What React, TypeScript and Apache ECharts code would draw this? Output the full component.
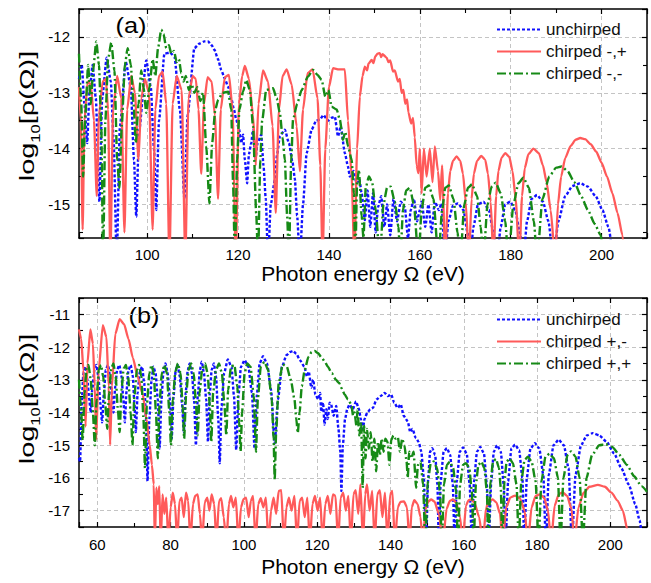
import React, { useEffect, useRef } from 'react';
import * as echarts from 'echarts';

type P = [number, number];

// ---------- axis ranges ----------
const xRangeA: [number, number] = [85, 210];
const yRangeA: [number, number] = [-15.6, -11.5];
const xRangeB: [number, number] = [55, 210];
const yRangeB: [number, number] = [-17.5, -10.5];

const xAxisTitle = 'Photon energy Ω (eV)';
const legendA = ['unchirped', 'chirped -,+', 'chirped -,-'];
const legendB = ['unchirped', 'chirped +,-', 'chirped +,+'];

// ---------- panel (a) ----------
const blueA: P[] = [
  [85, -12.75], [85.6, -12.5], [86.2, -13.2], [86.8, -13.9], [87.3, -13.0], [88, -12.5], [88.7, -13.1], [89.5, -14.95],
  [90.1, -13.1], [91.1, -12.37], [92, -12.8], [92.6, -13.8], [93.3, -16], [94, -13.6], [95.3, -12.45], [96.4, -12.9],
  [97.1, -14.2], [97.6, -15.22], [98.2, -13.7], [99.8, -12.42], [100.8, -12.9], [101.5, -14.0], [102, -15.1], [102.6, -13.5],
  [103.8, -12.3], [105, -12.28], [106, -12.35], [107.2, -13.3], [108.2, -14.9], [108.9, -13.4], [110.4, -12.2], [111.5, -12.12],
  [112.6, -12.08], [113.4, -12.08], [114.2, -12.15], [114.8, -12.23], [115.6, -12.4], [116.3, -12.59], [117.1, -12.75],
  [117.8, -12.89], [118.5, -13.1], [119.1, -13.3], [119.6, -13.48], [120.2, -13.65], [120.7, -13.9], [121.1, -13.75],
  [121.5, -14.2], [122, -14.62], [122.4, -14.1], [122.9, -13.9], [123.3, -13.66], [123.8, -14.2], [124.3, -13.9],
  [125.1, -13.75], [125.6, -14.3], [126.1, -14.9], [126.6, -16], [127.2, -15.0], [128.1, -14.56], [128.6, -14.1],
  [129.2, -13.78], [130.3, -13.66], [131.2, -13.9], [132, -14.25], [132.5, -14.54], [133, -15.2], [133.6, -16], [134.3, -15.0],
  [135.1, -14.08], [136.2, -13.66], [137.2, -13.5], [138, -13.48], [138.8, -13.4], [139.8, -13.5], [140.5, -13.45],
  [141.3, -13.43], [142, -13.78], [142.6, -13.6], [143.5, -14.08], [144.2, -14.32], [144.6, -14.5], [145.4, -14.4],
  [146.1, -14.62], [146.7, -14.55], [147.2, -14.8], [147.9, -15.28], [148.5, -14.75], [149.1, -15.4], [149.7, -14.8],
  [150.3, -15.5], [150.8, -15.05], [151.5, -14.85], [152.2, -15.4], [152.8, -15.0], [153.5, -15.55], [154.2, -14.9],
  [155, -15.3], [155.8, -14.95], [156.7, -15.05], [157.4, -15.6], [158, -15.1], [158.7, -14.9], [159.4, -15.3],
  [160, -15.1], [160.4, -14.95], [161.2, -15.4], [161.9, -15.0], [162.6, -15.5], [163.3, -14.95], [164.2, -15.1],
  [164.8, -14.98], [165.5, -16], [166.3, -15.3], [167.3, -15.02], [168.4, -14.98], [169.6, -15.1], [170.5, -15.5],
  [171.1, -16], [171.8, -15.4], [172.8, -15.0], [174, -14.95], [175.2, -15.1], [176.2, -15.5], [177, -16], [177.8, -15.4],
  [178.8, -15.0], [179.9, -14.95], [181, -15.1], [182, -15.5], [182.8, -16], [183.6, -15.3], [184.6, -14.9], [185.8, -14.83],
  [187.1, -14.95], [188.3, -15.3], [189.4, -16], [190.5, -15.3], [192, -14.85], [193.6, -14.67], [195.3, -14.62],
  [197, -14.68], [198.7, -14.85], [200.2, -15.1], [201.5, -15.4], [202.6, -16],
];

const redA: P[] = [
  [85, -12.9], [85.4, -13.5], [85.8, -15.45], [86.2, -13.5], [86.9, -12.8], [87.6, -12.85], [88.3, -13.5], [88.9, -14.85],
  [89.4, -13.4], [90.2, -12.8], [90.9, -12.75], [91.4, -13.3], [91.9, -16], [92.5, -13.3], [93.4, -12.7], [94.3, -13.1],
  [95, -15.5], [95.6, -13.3], [96.5, -12.7], [97.3, -13.0], [98.1, -14.2], [98.7, -13.1], [99.5, -12.75], [100.4, -13.0],
  [101.2, -15.45], [101.8, -13.3], [102.6, -12.7], [103.4, -12.62], [104.2, -13.2], [104.9, -16], [105.6, -13.2],
  [106.5, -12.7], [107.6, -12.95], [108.4, -16], [109.1, -13.1], [110, -12.7], [110.7, -12.75], [111.3, -13.3],
  [111.9, -14.45], [112.5, -13.2], [113.3, -12.72], [114.2, -12.8], [114.9, -13.4], [115.6, -14.9], [116.2, -13.3],
  [117.1, -12.72], [118, -12.68], [118.8, -13.3], [119.5, -16], [120.2, -13.2], [120.9, -12.7], [121.5, -12.52],
  [122.4, -12.75], [123.3, -13.4], [123.9, -14.3], [124.5, -13.2], [125.5, -12.6], [126.6, -12.8], [127.6, -13.6],
  [128.3, -15.15], [129, -13.3], [129.8, -12.7], [130.7, -12.58], [131.8, -12.85], [132.9, -13.6], [133.6, -14.4],
  [134.3, -13.3], [135.3, -12.65], [136.4, -12.58], [137.5, -13.1], [138.1, -14.3], [138.6, -16], [139.2, -14.0],
  [140, -12.9], [140.9, -12.56], [142.2, -12.58], [143.5, -12.58], [144.2, -13.5], [145, -14.5], [145.6, -16],
  [146.2, -14.0], [146.8, -13.07], [147.4, -12.7], [147.9, -12.53], [148.4, -12.6], [148.7, -12.48], [149.4, -12.41],
  [149.8, -12.47], [150.2, -12.35], [150.7, -12.3], [151.2, -12.29], [151.5, -12.36], [151.8, -12.31], [152.7, -12.37],
  [153.1, -12.45], [153.5, -12.42], [154.1, -12.62], [154.5, -12.6], [155.2, -12.8], [155.6, -12.75], [156, -13.0],
  [156.4, -12.95], [156.8, -13.2], [157.2, -13.12], [157.5, -13.35], [158.1, -13.55], [158.5, -13.45], [158.9, -13.8],
  [159.3, -14.3], [159.7, -14.44], [160, -14.0], [160.4, -14.8], [160.9, -14.0], [161.5, -14.5], [162.2, -14.0],
  [162.8, -14.6], [163.3, -13.96], [164, -14.4], [164.5, -14.92], [164.9, -14.3], [165.6, -16], [166.2, -14.8],
  [166.7, -14.4], [167.3, -14.22], [168.1, -14.14], [168.9, -14.22], [169.5, -14.45], [170.1, -14.95], [170.8, -16],
  [171.4, -14.9], [171.9, -14.45], [172.6, -14.22], [173.5, -14.13], [174.4, -14.2], [175, -14.45], [175.6, -14.95],
  [176.2, -16], [176.8, -14.85], [177.3, -14.4], [178, -14.16], [178.8, -14.08], [179.7, -14.15], [180.4, -14.4],
  [181.1, -14.9], [181.9, -16], [182.5, -14.85], [183.1, -14.35], [183.9, -14.1], [185, -14.0], [186.2, -14.08],
  [187.1, -14.3], [187.9, -14.6], [188.8, -15.1], [189.8, -16], [190.4, -15.0], [191.1, -14.5], [192, -14.17],
  [193.2, -13.95], [194.3, -13.84], [195.3, -13.81], [196.4, -13.83], [197.6, -13.92], [198.8, -14.05],
  [200, -14.25], [201.2, -14.5], [202.4, -14.8], [203.5, -15.15], [204.6, -15.55], [205.6, -16.5],
];

const greenA: P[] = [
  [85, -12.3], [85.5, -13.2], [85.9, -14.5], [86.4, -13.4], [87, -12.5], [87.6, -13.2], [88.1, -12.6], [88.8, -12.08],
  [89.4, -12.5], [89.9, -13.6], [90.3, -16], [90.8, -13.5], [91.4, -12.4], [92.1, -12.1], [92.8, -12.6], [93.4, -14.2],
  [93.9, -14.7], [94.4, -13.6], [95.1, -12.5], [95.7, -12.2], [96.4, -12.5], [97, -13.2], [97.5, -13.9], [98.1, -13.2],
  [98.7, -12.6], [99.2, -12.9], [99.8, -13.36], [100.5, -12.9], [101.2, -12.4], [101.8, -12.7], [102.4, -12.2],
  [103.1, -11.87], [103.6, -11.95], [104.2, -12.2], [104.8, -12.15], [105.3, -12.3], [105.9, -12.25], [106.5, -12.45],
  [107, -12.4], [107.5, -12.65], [108, -12.8], [108.5, -12.7], [109.2, -12.95], [109.8, -12.85], [110.4, -13.0],
  [111, -12.9], [111.7, -13.15], [112.3, -13.0], [113, -13.96], [113.7, -14.98], [114.3, -13.9], [115, -13.3],
  [115.6, -13.13], [116.6, -13.0], [117.8, -12.98], [118.5, -13.3], [118.9, -14.6], [119.3, -16], [119.8, -14.2],
  [120.3, -13.3], [121.1, -12.98], [121.8, -12.77], [122.6, -12.95], [123.3, -13.6], [124, -15.16], [124.4, -16],
  [124.9, -14.2], [125.3, -13.5], [126.2, -12.95], [127.7, -12.92], [128.5, -13.1], [129.2, -13.36], [129.8, -13.8],
  [130.3, -14.2], [130.8, -15.2], [131.2, -16], [131.7, -14.2], [132.1, -13.48], [133, -13.2], [134, -12.95],
  [135.4, -12.71], [136.5, -12.59], [137.5, -12.68], [138.4, -12.77], [139.2, -13.07], [139.9, -12.95], [140.6, -13.25],
  [141.7, -13.3], [142.4, -13.48], [143.1, -13.84], [143.6, -13.7], [144.2, -13.96], [145, -14.2], [145.5, -14.8],
  [145.8, -16], [146.2, -14.6], [146.6, -14.38], [147.2, -15.2], [147.6, -15.6], [148.1, -14.7], [148.8, -14.5],
  [149.5, -14.6], [150.3, -15.1], [151.2, -16], [152, -15.0], [152.8, -14.7], [153.6, -14.68], [154.5, -14.95],
  [155.3, -15.4], [155.7, -16], [156.3, -15.1], [157, -14.75], [157.8, -14.7], [158.7, -15.0], [159.7, -16],
  [160.4, -15.1], [161.2, -14.7], [162, -14.66], [163, -14.9], [164.1, -16], [164.9, -15.1], [165.6, -14.7],
  [166.4, -14.66], [167.4, -14.9], [168.3, -15.5], [168.9, -16], [169.8, -15.0], [170.6, -14.7], [171.5, -14.64],
  [172.6, -14.85], [173.4, -15.4], [174, -16], [174.9, -15.0], [175.8, -14.68], [176.7, -14.61], [177.8, -14.8],
  [178.8, -15.3], [179.5, -16], [180.6, -15.0], [181.7, -14.62], [182.8, -14.52], [184, -14.7], [185.1, -15.3],
  [185.8, -16], [187, -14.9], [188.5, -14.5], [190, -14.34], [191.2, -14.32], [192.5, -14.4], [194, -14.6],
  [195.5, -14.85], [197, -15.1], [198.5, -15.35], [199.8, -15.55], [200.5, -16],
];

// ---------- panel (b) ----------
const blueB: P[] = [
  [55, -15.4], [55.3, -15.5], [55.7, -13.8], [56.2, -12.8], [56.7, -12.6], [57.3, -13.0], [57.8, -13.6], [58.2, -14.0],
  [58.6, -13.3], [59.2, -12.7], [59.7, -12.55], [60.3, -12.9], [60.8, -13.7], [61.3, -14.3], [61.8, -13.4], [62.3, -12.7],
  [62.9, -12.55], [63.5, -12.9], [64, -13.5], [64.4, -14.0], [64.9, -13.2], [65.4, -12.7], [66, -12.55], [66.6, -12.9],
  [67.1, -13.6], [67.5, -14.3], [68, -13.3], [68.5, -12.7], [69.1, -12.55], [69.7, -12.9], [70.1, -13.7], [70.5, -14.6],
  [71, -13.4], [71.6, -12.75], [72.2, -12.6], [72.8, -13.1], [73.3, -14.2], [73.7, -16.1], [74.2, -14.2], [74.8, -13.0],
  [75.3, -12.6], [75.9, -12.8], [76.5, -13.6], [77, -15.1], [77.5, -13.6], [78, -12.8], [78.6, -12.5], [79.2, -12.8],
  [79.8, -13.6], [80.3, -14.8], [80.8, -13.5], [81.4, -12.7], [81.9, -12.55], [82.5, -12.9], [83.1, -13.7], [83.6, -14.6],
  [84.1, -13.4], [84.7, -12.7], [85.2, -12.5], [85.8, -12.8], [86.4, -13.6], [86.9, -15.0], [87.4, -13.5], [88, -12.7],
  [88.5, -12.45], [89.1, -12.8], [89.7, -13.6], [90.2, -14.9], [90.7, -13.4], [91.2, -12.7], [91.8, -12.5], [92.4, -12.9],
  [93, -14.2], [93.4, -15.55], [93.9, -13.8], [94.6, -12.8], [95.6, -12.38], [96.6, -12.6], [97.3, -13.5], [97.9, -15.14],
  [98.5, -13.5], [99.2, -12.6], [100.2, -12.4], [101.2, -12.6], [102.2, -13.4], [102.9, -15.1], [103.5, -13.5],
  [104.3, -12.5], [105.2, -12.28], [106.3, -12.5], [107.4, -13.3], [108.4, -14.95], [109.3, -13.6], [110.4, -12.6],
  [111.6, -12.25], [112.6, -12.15], [113.4, -12.12], [114.3, -12.2], [115.3, -12.4], [116.5, -12.6], [117.2, -12.9],
  [117.7, -12.75], [118.4, -13.24], [118.9, -13.0], [119.5, -13.45], [120.3, -13.6], [120.8, -13.4], [121.1, -13.97],
  [121.6, -13.7], [122, -14.37], [122.5, -13.9], [122.9, -14.2], [123.4, -13.7], [123.8, -13.76], [124.5, -14.1],
  [125.2, -13.8], [125.8, -14.5], [126.3, -15.2], [126.6, -16.4], [127, -15.0], [127.6, -14.2], [128.2, -13.9],
  [128.8, -13.76], [129.7, -13.9], [130.6, -13.66], [131.4, -13.9], [131.9, -14.2], [132.4, -14.58], [132.9, -14.2],
  [133.7, -14.0], [134.5, -13.9], [135.2, -13.86], [136.2, -13.6], [137.3, -13.5], [138.4, -13.4], [139.3, -13.5],
  [140.2, -13.45], [141, -13.7], [142, -13.86], [142.8, -13.75], [143.6, -14.1], [144.7, -14.27], [145.4, -14.6],
  [146, -14.5], [146.9, -14.78], [147.7, -14.9], [148.4, -15.19], [149.1, -16], [149.7, -18], [150.3, -16], [150.8, -15.2],
  [151.4, -15.09], [152.2, -15.3], [152.8, -16.2], [153.2, -18], [153.7, -16.1], [154.5, -15.2], [155.4, -15.09],
  [156.3, -15.3], [157, -16.2], [157.5, -18], [158.1, -16.1], [158.9, -15.2], [159.8, -15.07], [160.8, -15.25],
  [161.6, -16.2], [162.2, -18], [162.8, -16.1], [163.6, -15.2], [164.5, -15.05], [165.5, -15.25], [166.3, -16.2],
  [166.8, -18], [167.5, -16.1], [168.2, -15.2], [169.1, -15.0], [170.1, -15.2], [170.9, -16.2], [171.4, -18],
  [172.1, -16.1], [173, -15.1], [174, -14.98], [175.1, -15.15], [176, -16.0], [176.5, -18], [177.2, -16.0],
  [178.2, -15.1], [179.4, -14.94], [180.6, -15.1], [181.7, -15.9], [182.4, -18], [183.2, -15.9], [184.5, -15.0],
  [185.9, -14.83], [187.3, -15.0], [188.6, -15.7], [189.5, -18], [190.5, -15.9], [192, -15.0], [193.6, -14.7],
  [195.2, -14.63], [197, -14.7], [199, -14.9], [201, -15.25], [203, -15.7], [205, -16.2], [206.8, -16.8], [208, -17.3],
  [208.8, -18],
];

const redB: P[] = [
  [55, -11.46], [55.6, -11.75], [56.2, -12.7], [56.8, -14.43], [57.3, -12.5], [58.1, -11.46], [58.8, -11.9],
  [59.3, -13.2], [59.7, -14.83], [60.3, -12.8], [61.5, -11.33], [62.5, -11.7], [63.1, -13.2], [63.5, -14.99],
  [64, -13.2], [64.9, -11.6], [66.1, -11.15], [67.3, -11.3], [68.5, -11.75], [69.7, -12.33], [71, -12.9], [72.4, -13.45],
  [73.4, -14.2], [74.3, -15.0], [74.9, -15.6], [75.4, -16.2], [75.7, -18], [76.1, -16.3], [76.5, -16.8], [76.9, -16.25],
  [77.3, -18], [77.8, -16.5], [78.3, -17.1], [78.8, -16.6], [79.4, -18], [80, -16.9], [80.6, -16.45], [81.2, -16.8],
  [81.8, -18], [82.4, -16.7], [83, -16.6], [83.6, -17.2], [84.2, -16.45], [84.8, -16.7], [85.4, -18], [86.1, -16.8],
  [86.7, -16.55], [87.4, -16.5], [88, -17.1], [88.6, -18], [89.3, -16.75], [90, -16.6], [90.6, -17.0], [91.2, -16.5],
  [91.9, -16.8], [92.5, -18], [93.2, -16.7], [93.8, -16.62], [94.5, -17.2], [95.2, -18], [95.9, -16.8], [96.5, -16.55],
  [97.1, -16.9], [97.8, -16.6], [98.5, -18], [99.2, -16.9], [99.9, -16.65], [100.6, -16.6], [101.3, -17.2],
  [101.9, -16.7], [102.5, -16.55], [103.2, -18], [103.9, -16.8], [104.6, -16.62], [105.3, -16.9], [106, -16.6],
  [106.7, -18], [107.4, -17.0], [108.1, -16.6], [108.8, -17.1], [109.5, -16.4], [110.2, -16.37], [110.9, -18],
  [111.6, -16.9], [112.3, -16.6], [113, -17.0], [113.8, -16.55], [114.5, -18], [115.2, -16.7], [115.9, -16.6],
  [116.6, -17.2], [117.3, -16.6], [118, -18], [118.7, -16.8], [119.4, -16.55], [120.1, -17.0], [120.8, -16.6],
  [121.5, -18], [122.2, -16.8], [122.9, -16.55], [123.6, -17.1], [124.3, -16.5], [125, -16.55], [125.7, -18],
  [126.4, -16.6], [127.1, -16.45], [127.8, -17.0], [128.5, -16.55], [129.2, -18], [129.9, -16.5], [130.5, -16.37],
  [131.2, -17.1], [131.8, -16.2], [132.5, -18], [133.1, -16.5], [133.6, -16.2], [134.3, -17.0], [135, -16.4],
  [135.7, -18], [136.4, -16.5], [137.1, -16.37], [137.8, -17.2], [138.5, -16.45], [139.2, -18], [139.9, -16.5],
  [140.5, -16.4], [141.2, -18], [142, -16.9], [142.7, -16.73], [143.7, -16.72], [144.5, -16.9], [145.2, -18],
  [145.8, -16.9], [146.5, -16.68], [147.4, -16.8], [148.2, -17.2], [148.8, -18], [149.6, -16.95], [150.3, -16.72],
  [151.1, -16.66], [152, -16.72], [153.2, -17.1], [154.3, -18], [155.3, -16.95], [156.2, -16.7], [157, -16.66],
  [157.9, -16.75], [159, -17.2], [159.7, -18], [160.6, -16.85], [161.3, -16.68], [162, -16.66], [162.9, -16.75],
  [164.2, -17.2], [165.2, -18], [166.1, -16.9], [167, -16.68], [167.9, -16.66], [168.9, -16.75], [169.9, -17.1],
  [170.6, -18], [171.6, -16.9], [172.7, -16.6], [174, -16.54], [175.3, -16.62], [176.6, -17.0], [177.5, -18],
  [178.5, -16.9], [179.6, -16.55], [180.7, -16.5], [181.9, -16.6], [183, -17.0], [183.8, -18], [184.8, -16.85],
  [185.9, -16.5], [187, -16.44], [188.2, -16.55], [189.4, -16.95], [190.2, -18], [191.3, -16.9], [192.7, -16.45],
  [194.3, -16.27], [196.6, -16.21], [198.5, -16.27], [200.3, -16.45], [202, -16.7], [203.4, -17.0], [204.7, -17.6],
  [205.2, -18],
];

const greenB: P[] = [
  [55, -13.0], [55.5, -13.8], [56, -14.85], [56.5, -13.4], [57.1, -12.6], [57.6, -12.55], [58.2, -13.0], [58.8, -14.0],
  [59.3, -15.0], [59.8, -13.6], [60.4, -12.7], [61, -12.55], [61.6, -12.9], [62.2, -13.8], [62.7, -14.5], [63.2, -13.4],
  [63.8, -12.65], [64.4, -12.5], [65, -12.9], [65.6, -13.9], [66.1, -14.6], [66.6, -13.3], [67.2, -12.65], [67.8, -12.55],
  [68.4, -12.9], [69.1, -14.0], [69.6, -15.0], [70.1, -13.5], [70.8, -12.7], [71.4, -12.55], [72, -12.9], [72.6, -14.2],
  [73, -15.7], [73.5, -13.8], [74.2, -12.8], [74.8, -12.55], [75.4, -12.8], [76, -14.0], [76.5, -15.4], [77, -13.7],
  [77.6, -12.8], [78.3, -12.55], [79, -12.8], [79.6, -13.9], [80.1, -15.0], [80.6, -13.6], [81.3, -12.75], [82, -12.5],
  [82.7, -12.8], [83.3, -13.8], [83.7, -14.8], [84.2, -13.5], [84.9, -12.7], [85.6, -12.5], [86.3, -12.8], [86.9, -13.7],
  [87.4, -14.7], [87.9, -13.4], [88.6, -12.7], [89.4, -12.5], [90.1, -12.8], [90.7, -13.8], [91.1, -14.9], [91.6, -13.4],
  [92.4, -12.7], [93.2, -12.5], [94, -12.8], [94.7, -13.8], [95.2, -14.7], [95.7, -13.3], [96.5, -12.6], [97.4, -12.55],
  [98.2, -13.2], [98.7, -14.3], [99.1, -15.19], [99.5, -14.0], [100.2, -12.8], [100.9, -12.5], [101.8, -12.6],
  [102.7, -13.5], [103.3, -15.2], [103.8, -13.6], [104.6, -12.6], [105.6, -12.45], [106.6, -12.7], [107.6, -13.6],
  [108.1, -14.8], [108.4, -16.06], [108.8, -14.6], [109.5, -13.1], [110.6, -12.53], [111.7, -12.6], [112.8, -13.0],
  [113.8, -13.6], [114.3, -14.2], [114.7, -14.63], [115.2, -14.0], [115.8, -13.2], [116.6, -12.7], [117.6, -12.3],
  [118.5, -12.15], [119.3, -12.12], [120.2, -12.18], [121.2, -12.32], [122.1, -12.45], [122.9, -12.6], [124, -12.8],
  [125.1, -13.0], [126, -13.1], [126.6, -13.25], [127.5, -13.45], [128.4, -13.6], [129.3, -13.75], [129.8, -14.1],
  [130.2, -14.0], [130.7, -14.4], [131, -13.9], [131.5, -14.7], [132, -14.3], [132.4, -16.3], [132.8, -14.4],
  [133.2, -15.4], [133.6, -14.5], [134.1, -15.1], [134.6, -14.6], [135.1, -15.5], [135.6, -14.8], [136.1, -15.8],
  [136.6, -14.9], [137.1, -15.3], [137.6, -14.8], [138.1, -15.2], [138.6, -14.8], [139.2, -14.9], [139.7, -15.6],
  [140.2, -14.85], [140.8, -14.7], [141.4, -14.8], [142, -14.75], [142.6, -15.2], [143.2, -14.8], [143.8, -15.0],
  [144.4, -15.5], [144.7, -16.0], [145.1, -15.2], [145.7, -15.4], [146.3, -15.2], [147, -16.3], [147.5, -15.6],
  [148.2, -15.5], [148.9, -16.2], [149.5, -18], [150.2, -16.1], [151, -15.55], [151.8, -15.5], [152.7, -15.7],
  [153.5, -16.4], [154, -18], [154.6, -16.2], [155.4, -15.6], [156.2, -15.5], [157.1, -15.7], [157.9, -16.4],
  [158.4, -18], [159, -16.2], [159.8, -15.6], [160.6, -15.55], [161.5, -15.7], [162.2, -16.4], [162.7, -18],
  [163.3, -16.2], [164, -15.6], [164.8, -15.5], [165.6, -15.7], [166.3, -16.4], [166.7, -18], [167.3, -16.1],
  [168, -15.5], [168.8, -15.42], [169.6, -15.7], [170.1, -16.3], [170.5, -18], [171.1, -16.1], [171.7, -15.5],
  [172.5, -15.4], [173.4, -15.55], [174.4, -16.2], [175, -18], [175.7, -16.1], [176.6, -15.45], [177.5, -15.35],
  [178.5, -15.5], [179.6, -16.1], [180.4, -18], [181.2, -16.1], [182.3, -15.35], [183.4, -15.26], [184.6, -15.4],
  [185.7, -16.0], [186.4, -18], [187.2, -16.0], [188.3, -15.3], [189.3, -15.19], [190.5, -15.35], [191.6, -16.0],
  [192.5, -18], [193.5, -16.0], [195, -15.3], [197, -15.0], [198.8, -14.97], [200.5, -15.05], [202.5, -15.3],
  [204.5, -15.6], [206.5, -15.95], [208.5, -16.25], [210, -16.42],
];

const FONT = '"Liberation Sans", Arial, Helvetica, sans-serif';
const BLUE = '#1010ff';
const RED = '#ff5a5a';
const GREEN = '#168a16';

const blueStyle = { color: BLUE, width: 2.4, type: [3, 2] as number[] };
const redStyle = { color: RED, width: 2.3, type: 'solid' };
const greenStyle = { color: GREEN, width: 2.4, type: [9, 3, 2, 3] as number[] };

function mainAxis(extra: any) {
  return {
    type: 'value',
    axisLine: { show: true, onZero: false, lineStyle: { color: '#000', width: 1.5 } },
    axisTick: { show: true, inside: true, length: 5, lineStyle: { color: '#000', width: 1.2 } },
    minorTick: { show: true, splitNumber: 2, length: 4, lineStyle: { color: '#000', width: 1.1 } },
    axisLabel: { color: '#000', fontSize: 15, fontFamily: FONT, showMinLabel: false, showMaxLabel: false, margin: 9 },
    splitLine: { show: true, showMinLine: false, showMaxLine: false, lineStyle: { color: '#c4c4c4', type: [4, 3], width: 1 } },
    ...extra,
  };
}

function mirrorAxis(extra: any) {
  return {
    type: 'value',
    axisLine: { show: true, onZero: false, lineStyle: { color: '#000', width: 1.5 } },
    axisTick: { show: true, inside: true, length: 5, lineStyle: { color: '#000', width: 1.2 } },
    minorTick: { show: true, splitNumber: 2, length: 4, lineStyle: { color: '#000', width: 1.1 } },
    axisLabel: { show: false },
    splitLine: { show: false },
    ...extra,
  };
}

function yName(y: number) {
  return {
    type: 'text',
    x: 27,
    y,
    rotation: Math.PI / 2,
    scaleX: 1.38,
    style: {
      text: '{m|log}{s|10}{m|[ρ(Ω)]}',
      align: 'center',
      verticalAlign: 'middle',
      fill: '#000',
      rich: {
        m: { fontSize: 21, fontFamily: FONT, lineHeight: 30, verticalAlign: 'middle', fill: '#000' },
        s: { fontSize: 12, fontFamily: FONT, lineHeight: 12, verticalAlign: 'bottom', fill: '#000' },
      },
    },
  };
}

function panelLabel(text: string, x: number, y: number) {
  return {
    type: 'text',
    x,
    y,
    scaleX: 1.15,
    style: { text, fontSize: 22, fontFamily: FONT, fill: '#000', align: 'center', verticalAlign: 'middle' },
  };
}

const legendCommon = {
  orient: 'vertical',
  itemWidth: 44,
  itemHeight: 14,
  itemGap: 5,
  itemStyle: { color: 'rgba(0,0,0,0)', borderColor: 'rgba(0,0,0,0)', borderWidth: 0, opacity: 0 },
  textStyle: { fontSize: 17, fontFamily: FONT, color: '#111' },
  selectedMode: false,
};

const lineCommon = { type: 'line', symbol: 'none', clip: true, silent: true, smooth: 0.2, smoothMonotone: 'x' };

const option: any = {
  animation: false,
  backgroundColor: '#ffffff',
  grid: [
    { left: 79, top: 9, width: 568, height: 229 },
    { left: 79, top: 298, width: 568, height: 229 },
  ],
  xAxis: [
    mainAxis({
      gridIndex: 0, position: 'bottom', min: xRangeA[0], max: xRangeA[1], splitNumber: 6,
      name: xAxisTitle, nameLocation: 'middle', nameGap: 22,
      nameTextStyle: { fontSize: 21, fontFamily: FONT, color: '#000' },
    }),
    mainAxis({
      gridIndex: 1, position: 'bottom', min: xRangeB[0], max: xRangeB[1], splitNumber: 8,
      name: xAxisTitle, nameLocation: 'middle', nameGap: 29,
      nameTextStyle: { fontSize: 21, fontFamily: FONT, color: '#000' },
      axisLabel: { color: '#000', fontSize: 15, fontFamily: FONT, showMinLabel: false, showMaxLabel: false, margin: 10 },
    }),
    mirrorAxis({ gridIndex: 0, position: 'top', min: xRangeA[0], max: xRangeA[1], splitNumber: 6 }),
    mirrorAxis({ gridIndex: 1, position: 'top', min: xRangeB[0], max: xRangeB[1], splitNumber: 8 }),
  ],
  yAxis: [
    mainAxis({ gridIndex: 0, position: 'left', min: yRangeA[0], max: yRangeA[1], splitNumber: 4 }),
    mainAxis({ gridIndex: 1, position: 'left', min: yRangeB[0], max: yRangeB[1], splitNumber: 7 }),
    mirrorAxis({ gridIndex: 0, position: 'right', min: yRangeA[0], max: yRangeA[1], splitNumber: 4 }),
    mirrorAxis({ gridIndex: 1, position: 'right', min: yRangeB[0], max: yRangeB[1], splitNumber: 7 }),
  ],
  legend: [
    { ...legendCommon, left: 491, top: 16, data: legendA },
    { ...legendCommon, left: 491, top: 306, data: legendB },
  ],
  graphic: [
    yName(116),
    yName(399),
    panelLabel('(a)', 131, 26),
    panelLabel('(b)', 144, 316),
  ],
  series: [
    { ...lineCommon, name: legendA[0], xAxisIndex: 0, yAxisIndex: 0, data: blueA, lineStyle: blueStyle, itemStyle: { color: BLUE } },
    { ...lineCommon, name: legendA[1], xAxisIndex: 0, yAxisIndex: 0, data: redA, lineStyle: redStyle, itemStyle: { color: RED } },
    { ...lineCommon, name: legendA[2], xAxisIndex: 0, yAxisIndex: 0, data: greenA, lineStyle: greenStyle, itemStyle: { color: GREEN } },
    { ...lineCommon, name: legendB[0], xAxisIndex: 1, yAxisIndex: 1, data: blueB, lineStyle: blueStyle, itemStyle: { color: BLUE } },
    { ...lineCommon, name: legendB[1], xAxisIndex: 1, yAxisIndex: 1, data: redB, lineStyle: redStyle, itemStyle: { color: RED } },
    { ...lineCommon, name: legendB[2], xAxisIndex: 1, yAxisIndex: 1, data: greenB, lineStyle: greenStyle, itemStyle: { color: GREEN } },
  ],
};

export default function App() {
  const ref = useRef<HTMLDivElement>(null);
  useEffect(() => {
    if (!ref.current) return;
    const chart = echarts.init(ref.current, null, { renderer: 'svg' });
    chart.setOption(option);
    return () => chart.dispose();
  }, []);
  return (
    <div
      ref={ref}
      style={{ position: 'fixed', left: 0, top: 0, width: 651, height: 583, background: '#fff' }}
    />
  );
}
